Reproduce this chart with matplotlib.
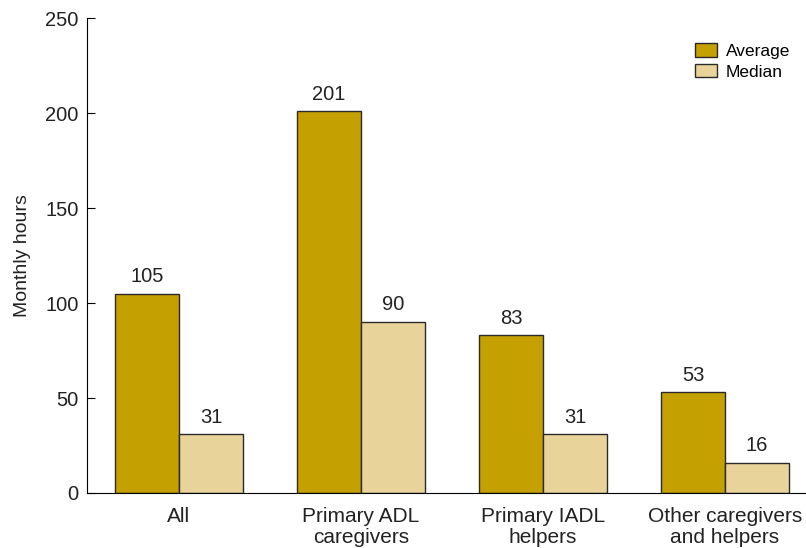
import numpy as np
import matplotlib.pyplot as plt

plt.rcParams['font.family'] = ['Liberation Sans', 'DejaVu Sans']

categories = ["All", "Primary ADL\ncaregivers", "Primary IADL\nhelpers", "Other caregivers\nand helpers"]
average = [105, 201, 83, 53]
median = [31, 90, 31, 16]

fig = plt.figure(figsize=(8.06, 5.48), dpi=100)
ax = fig.add_axes([0.108, 0.1004, 0.892, 0.8664])

x = np.arange(len(categories))
w = 0.352
b1 = ax.bar(x - w / 2, average, w, color="#C4A000", edgecolor="#2a2a2a", linewidth=1.0, label="Average")
b2 = ax.bar(x + w / 2, median, w, color="#E8D49A", edgecolor="#2a2a2a", linewidth=1.0, label="Median")

for bars in (b1, b2):
    for r in bars:
        ax.text(r.get_x() + r.get_width() / 2, r.get_height() + 4, f"{int(r.get_height())}",
                ha="center", va="bottom", fontsize=14.5, color="#222222")

ax.set_xlim(-0.505, 3.445)
ax.set_ylim(0, 250)
ax.set_yticks([0, 50, 100, 150, 200, 250])
ax.set_xticks(x)
ax.set_xticklabels(categories, fontsize=15, color="#222222", linespacing=1.15)
ax.tick_params(axis="x", length=0, pad=10)
ax.tick_params(axis="y", direction="in", length=6, labelsize=14.5, labelcolor="#222222", pad=6)
ax.set_ylabel("Monthly hours", fontsize=14, color="#222222", labelpad=10)

ax.spines["top"].set_visible(False)
ax.spines["right"].set_visible(False)

ax.legend(loc="upper right", bbox_to_anchor=(1.0, 0.98), frameon=False, fontsize=12.5,
          handlelength=1.3, handleheight=0.8, handletextpad=0.5, labelspacing=0.3)

fig.savefig("out.png", dpi=100)
